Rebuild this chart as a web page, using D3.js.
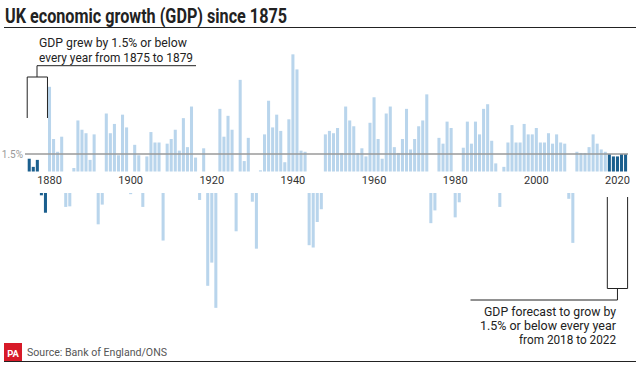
<!DOCTYPE html>
<html>
<head>
<meta charset="utf-8">
<script src="https://cdn.jsdelivr.net/npm/d3@7"></script>
<style>
  html, body { margin: 0; padding: 0; background: #fff; }
  svg { display: block; font-family: Roboto, "Noto Sans", sans-serif; }
</style>
</head>
<body>
<svg id="chart" width="640" height="365"></svg>
<script>
// ---- data ----
const years = d3.range(1875, 2023);
const growth = [
  1.1, 0.4, 1.0, -0.2, -1.7,                 // 1875-1879
  7.3, 2.8, 1.7, 3.0, -1.2, -1.15, 0.3, 4.4, 3.6, 3.3,   // 1880-1889
  1.0, 3.2, -2.7, -1.0, 5.0, 3.3, 4.1, 1.4, 4.9, 3.8,    // 1890-1899
  -0.1, 2.3, 1.4, -1.2, 1.3, 3.4, 2.5, 2.5, -4.1, 2.4,   // 1900-1909
  2.8, 3.6, 1.8, 4.6, 2.1, 5.6, 1.2, -0.6, 2.0, -8.0,    // 1910-1919
  -6.0, -9.9, 5.4, 3.0, 4.8, 3.6, -3.3, 7.9, 0.9, 2.9,   // 1920-1929
  -0.75, -4.8, 0.1, 3.2, 6.1, 3.8, 4.9, 3.5, 0.8, 4.5,   // 1930-1939
  10.1, 8.8, 1.8, 1.7, -4.5, -4.7, -2.5, -1.4, 3.2, 3.5, // 1940-1949
  3.3, 3.75, 1.6, 5.6, 4.4, 3.9, 1.6, 2.0, 1.3, 4.2,     // 1950-1959
  6.4, 2.8, 1.1, 5.0, 5.6, 2.1, 1.6, 2.8, 5.4, 1.9,      // 1960-1969
  2.8, 3.9, 4.4, 6.65, -2.6, -1.5, 2.9, 2.4, 4.3, 3.75,  // 1970-1979
  -2.1, -0.8, 2.05, 4.3, 2.4, 4.3, 3.2, 5.4, 5.8, 2.65,  // 1980-1989
  0.7, -1.2, 0.4, 2.5, 4.0, 2.5, 2.5, 4.1, 3.2, 3.2,     // 1990-1999
  3.75, 2.5, 2.5, 3.3, 2.4, 3.2, 2.5, 2.4, -0.5, -4.3,   // 2000-2009
  1.7, 1.6, 1.6, 2.1, 3.2, 2.4, 1.9, 1.7,                // 2010-2017
  1.5, 1.3, 1.3, 1.5, 1.5                                // 2018-2022 (forecast)
];
const highlightYears = [1875, 1876, 1877, 1878, 1879, 2018, 2019, 2020, 2021, 2022];
const tickYears = [1880, 1900, 1920, 1940, 1960, 1980, 2000, 2020];
const refValue = 1.5;
const refLabel = "1.5%";
const title = "UK economic growth (GDP) since 1875";
const noteTop = ["GDP grew by 1.5% or below", "every year from 1875 to 1879"];
const noteBottom = ["GDP forecast to grow by", "1.5% or below every year", "from 2018 to 2022"];
const source = "Source: Bank of England/ONS";

const data = years.map((y, i) => ({ year: y, value: growth[i] }));

// ---- layout ----
const svg = d3.select("#chart");
const LIGHT = "#b9d5ec", DARK = "#1b5f8e", INK = "#222";

const x = d3.scaleBand().domain(years).range([27.3, 627.5]).paddingInner(0.25).paddingOuter(0.1);
const yPos = d3.scaleLinear().domain([0, 10]).range([171.5, 55.5]);
const yNeg = d3.scaleLinear().domain([0, -10]).range([193, 309]);

// title
svg.append("text").attr("x", 5).attr("y", 22.5)
  .attr("font-size", 20.5).attr("font-weight", 700).attr("fill", INK)
  .attr("textLength", 282).attr("lengthAdjust", "spacingAndGlyphs")
  .text(title);
svg.append("line").attr("x1", 4).attr("x2", 636).attr("y1", 27.5).attr("y2", 27.5)
  .attr("stroke", INK).attr("stroke-width", 1);

// bars
const isHi = d => highlightYears.includes(d.year);
svg.append("g").selectAll("rect").data(data).join("rect")
  .attr("x", d => x(d.year))
  .attr("width", x.bandwidth())
  .attr("y", d => d.value >= 0 ? yPos(d.value) : yNeg(0))
  .attr("height", d => d.value >= 0 ? yPos(0) - yPos(d.value) : yNeg(d.value) - yNeg(0))
  .attr("fill", d => isHi(d) ? DARK : LIGHT);

// reference line
svg.append("line").attr("x1", 25).attr("x2", 628)
  .attr("y1", yPos(refValue)).attr("y2", yPos(refValue))
  .attr("stroke", "#9a9a9a").attr("stroke-width", 1.5);
svg.append("text").attr("x", 23).attr("y", yPos(refValue) + 3.5)
  .attr("text-anchor", "end").attr("font-size", 10).attr("fill", "#999")
  .text(refLabel);

// x axis labels
const axis = d3.axisBottom(x).tickValues(tickYears).tickSize(0).tickPadding(0);
const gAxis = svg.append("g").attr("transform", "translate(0,176)").call(axis);
gAxis.select(".domain").remove();
gAxis.selectAll("text").attr("font-size", 11).attr("fill", "#333")
  .attr("font-family", "Roboto, 'Noto Sans', sans-serif");

// top annotation
const bx1 = x(1875) - 0.5, bx2 = x(1879) + x.bandwidth() + 0.5;
const stemX = 37;
const topWidths = [148, 154];
svg.append("g").selectAll("text").data(noteTop).join("text")
  .attr("x", 39).attr("y", (d, i) => 47 + i * 14.5)
  .attr("font-size", 13).attr("fill", INK)
  .attr("textLength", (d, i) => topWidths[i]).attr("lengthAdjust", "spacingAndGlyphs")
  .text(d => d);
svg.append("path")
  .attr("d", `M196,65.7H${stemX}V77 M${bx1},118V77H${bx2}V118`)
  .attr("fill", "none").attr("stroke", INK).attr("stroke-width", 1);

// bottom annotation
const cx1 = x(2018) - 0.5, cx2 = x(2022) + x.bandwidth() + 0.5;
const cMid = (cx1 + cx2) / 2;
svg.append("path")
  .attr("d", `M${cx1},197V288.5H${cx2}V197 M${cMid},288.5V300H470.5`)
  .attr("fill", "none").attr("stroke", INK).attr("stroke-width", 1);
const botWidths = [132, 136, 97];
svg.append("g").selectAll("text").data(noteBottom).join("text")
  .attr("x", 616).attr("y", (d, i) => 315.5 + i * 14)
  .attr("text-anchor", "end").attr("font-size", 13).attr("fill", INK)
  .attr("textLength", (d, i) => botWidths[i]).attr("lengthAdjust", "spacingAndGlyphs")
  .text(d => d);

// footer
svg.append("rect").attr("x", 4).attr("y", 343).attr("width", 18).attr("height", 18).attr("fill", "#d71a28");
svg.append("text").attr("x", 13).attr("y", 356.5).attr("text-anchor", "middle")
  .attr("font-size", 9.5).attr("font-weight", 700).attr("fill", "#fff").text("PA");
svg.append("text").attr("x", 27).attr("y", 356).attr("font-size", 11.5).attr("fill", "#555")
  .attr("textLength", 140).attr("lengthAdjust", "spacingAndGlyphs").text(source);
svg.append("line").attr("x1", 4).attr("x2", 636).attr("y1", 361.5).attr("y2", 361.5)
  .attr("stroke", INK).attr("stroke-width", 1.2);
</script>
</body>
</html>
